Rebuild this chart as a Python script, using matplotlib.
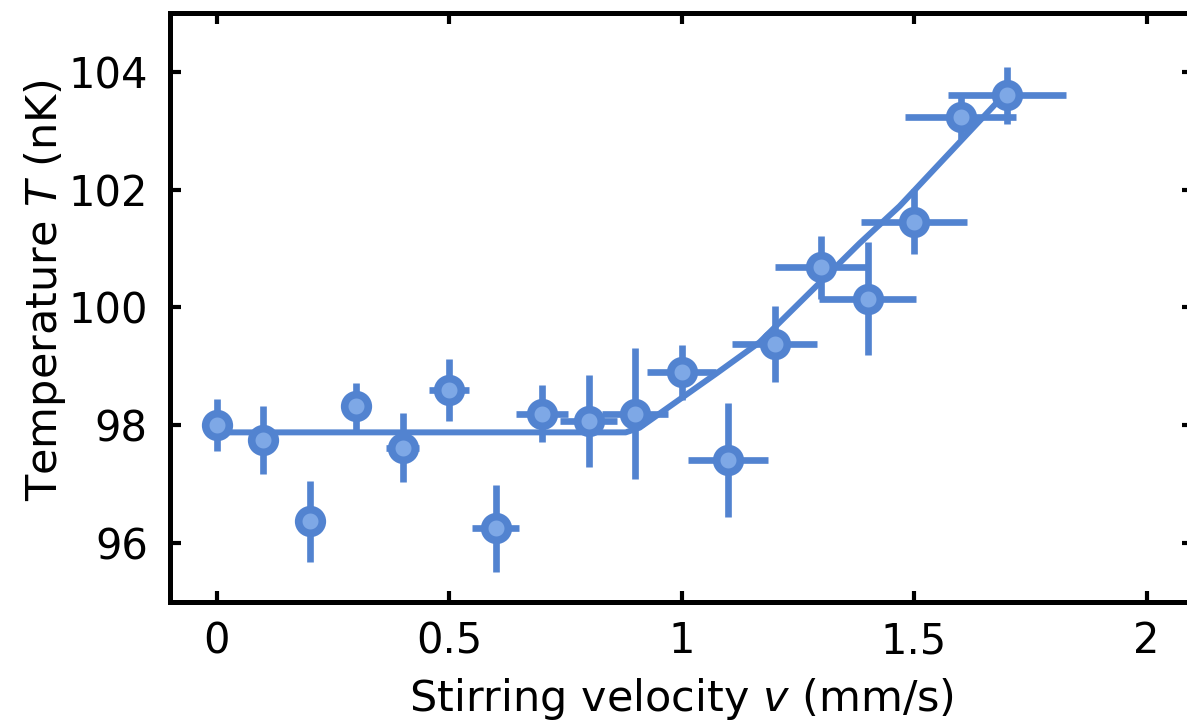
import matplotlib
matplotlib.use("Agg")
import matplotlib.pyplot as plt

# measured points
velocity = [0.0, 0.1, 0.2, 0.3, 0.4, 0.5, 0.6, 0.7, 0.8, 0.9,
            1.0, 1.1, 1.2, 1.3, 1.4, 1.5, 1.6, 1.7]
temperature = [98.0, 97.75, 96.37, 98.32, 97.62, 98.6, 96.25, 98.2, 98.07, 98.2,
               98.9, 97.41, 99.38, 100.68, 100.15, 101.46, 103.24, 103.6]
temp_err = [0.44, 0.57, 0.69, 0.4, 0.59, 0.53, 0.74, 0.49, 0.78, 1.12,
            0.47, 0.97, 0.65, 0.53, 0.96, 0.55, 0.38, 0.48]
vel_err = [0.0, 0.009, 0.018, 0.027, 0.036, 0.044, 0.05, 0.055, 0.062, 0.07,
           0.075, 0.085, 0.092, 0.1, 0.105, 0.114, 0.12, 0.127]

# fitted curve, vertices
fit_v = [0.0, 0.88, 0.91, 0.953, 1.039, 1.075, 1.168, 1.383, 1.469, 1.677]
fit_T = [97.88, 97.88, 97.96, 98.2, 98.68, 98.88, 99.41, 101.09, 101.72, 103.47]

xticks = [0, 0.5, 1, 1.5, 2]
xticklabels = ["0", "0.5", "1", "1.5", "2"]
yticks = [96, 98, 100, 102, 104]

blue = "#5283d0"
light = "#7ea8e6"

fig = plt.figure(figsize=(11.87, 7.25), dpi=100)
ax = fig.add_axes([170 / 1187, 1 - 602 / 725, (1193 - 170) / 1187, (602 - 13) / 725])

ax.plot(fit_v, fit_T, color=blue, lw=4.3, zorder=2, solid_capstyle="round")
ax.errorbar(velocity, temperature, yerr=temp_err, xerr=vel_err, fmt="o",
            color=blue, ecolor=blue, elinewidth=4.8, capsize=0,
            markersize=17, markerfacecolor=light, markeredgecolor=blue,
            markeredgewidth=5.5, zorder=3)

ax.set_xlim(-0.1, 2.1)
ax.set_ylim(95, 105)
ax.set_xticks(xticks)
ax.set_xticklabels(xticklabels)
ax.set_yticks(yticks)

for s in ax.spines.values():
    s.set_linewidth(3.6)
ax.tick_params(direction="in", length=8, width=3, labelsize=30,
               top=True, right=True)
ax.tick_params(axis="x", pad=13)
ax.tick_params(axis="y", pad=16)

ax.set_xlabel("Stirring velocity $v$ (mm/s)", fontsize=31, labelpad=10)
ax.set_ylabel("Temperature $T$ (nK)", fontsize=31, labelpad=6)
ax.yaxis.set_label_coords(-0.1, 0.53)

fig.savefig("out.png", dpi=100)
